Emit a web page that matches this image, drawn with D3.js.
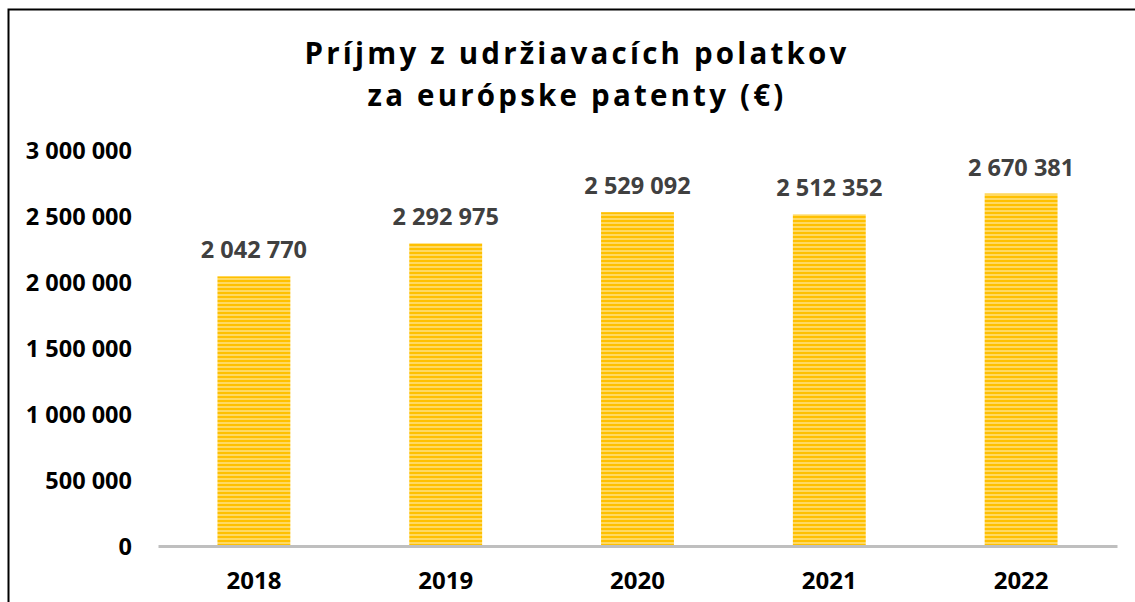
<!DOCTYPE html>
<html><head><meta charset="utf-8">
<script src="https://cdn.jsdelivr.net/npm/d3@7"></script>
<style>body{margin:0;background:#fff}svg{display:block}</style>
</head><body>
<svg id="c" width="1135" height="602"></svg>
<script>
const categories = ["2018","2019","2020","2021","2022"];
const values = [2042770, 2292975, 2529092, 2512352, 2670381];
const yTicks = [0, 500000, 1000000, 1500000, 2000000, 2500000, 3000000];
const titleLines = ["Príjmy z udržiavacích polatkov", "za európske patenty (€)"];

const svg = d3.select("#c");
const W = 1135, H = 602;
const m = {left:158, right:18, top:150, bottom:56};
const font = "'Open Sans', sans-serif";
const fmt = v => d3.format(",")(v).replace(/,/g, " ");

const defs = svg.append("defs");
const pat = defs.append("pattern").attr("id","stripes").attr("patternUnits","userSpaceOnUse")
  .attr("width",8).attr("height",4);
pat.append("rect").attr("width",8).attr("height",4).attr("fill","#FFC000");
pat.append("rect").attr("y",2.2).attr("width",8).attr("height",1.6).attr("fill","#FFE07A");

svg.append("rect").attr("x",8.5).attr("y",9.5).attr("width",1400).attr("height",800)
  .attr("fill","none").attr("stroke","#000").attr("stroke-width",2);

const x = d3.scaleBand().domain(categories).range([m.left, W - m.right]).paddingInner(0.62).paddingOuter(0.31);
const y = d3.scaleLinear().domain([0, 3000000]).range([H - m.bottom, m.top]);

svg.append("g").selectAll("text").data(titleLines).join("text")
  .attr("x", 577).attr("y", (d,i) => 64 + i*42)
  .attr("text-anchor","middle").attr("font-family",font).attr("font-weight","bold")
  .attr("font-size",29.5).attr("letter-spacing","3.2px").attr("fill","#000").text(d => d);

const yAxis = svg.append("g").attr("transform",`translate(${m.left-26},0)`)
  .call(d3.axisLeft(y).tickValues(yTicks).tickFormat(fmt).tickSize(0).tickPadding(0));
yAxis.select(".domain").remove();
yAxis.selectAll("text").attr("font-family",font).attr("font-weight","bold").attr("font-size",23.5).attr("fill","#000").attr("dy","0.35em");

svg.append("g").selectAll("rect").data(values).join("rect")
  .attr("x",(d,i)=>x(categories[i])).attr("width",x.bandwidth())
  .attr("y",d=>y(d)).attr("height",d=>y(0)-y(d)).attr("fill","url(#stripes)");

const xAxis = svg.append("g").attr("transform",`translate(0,${y(0)})`)
  .call(d3.axisBottom(x).tickSize(0).tickPadding(26));
xAxis.select(".domain").attr("stroke","#BFBFBF").attr("stroke-width",3);
xAxis.selectAll("text").attr("font-family",font).attr("font-weight","bold").attr("font-size",24).attr("fill","#000");

svg.append("g").selectAll("text").data(values).join("text")
  .attr("x",(d,i)=>x(categories[i])+x.bandwidth()/2).attr("y",d=>y(d)-18)
  .attr("text-anchor","middle").attr("font-family",font).attr("font-weight","bold")
  .attr("font-size",23.5).attr("fill","#404040").text(fmt);
</script>
</body></html>
